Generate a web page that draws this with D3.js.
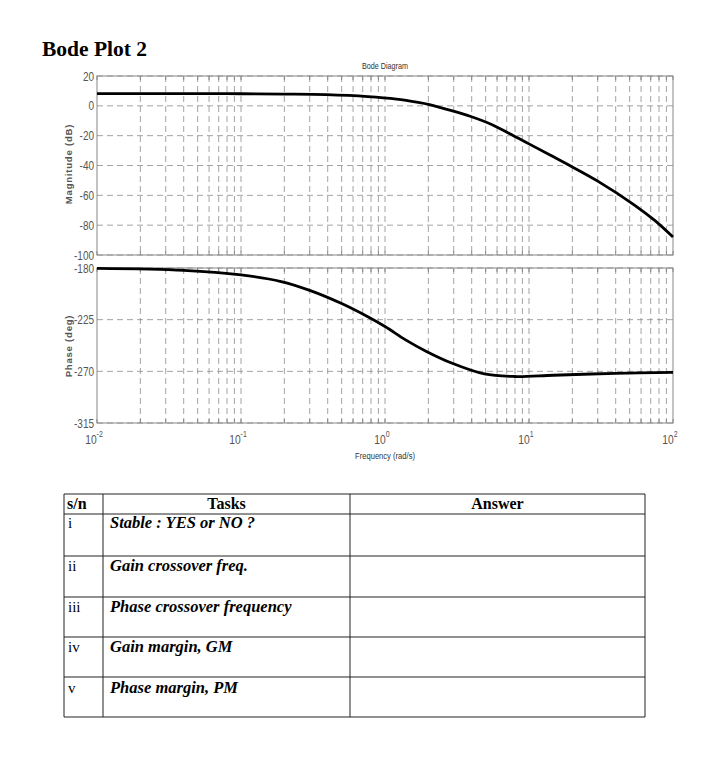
<!DOCTYPE html>
<html>
<head>
<meta charset="utf-8">
<script src="https://cdn.jsdelivr.net/npm/d3@7"></script>
<style>
  body { margin: 0; background: #fff; }
  .tick-lbl { font-family: "Liberation Sans", Arial, sans-serif; font-size: 12.5px; fill: #555; }
  .serif { font-family: "Liberation Serif", "Times New Roman", serif; }
</style>
</head>
<body>
<div id="chart"></div>
<script>
// magnitude curve (rad/s, dB)
const magFreq = [0.01, 0.05, 0.1, 0.2, 0.39, 0.76, 1.2, 1.7, 2, 2.9, 3.9, 5.5, 7.3, 10, 14, 20, 30, 54, 75, 100];
const magDb   = [8.2, 8.2, 8.1, 7.9, 7.5, 6.2, 4.5, 2.3, 1.0, -3.2, -7, -12.5, -18.5, -25.5, -33, -41, -50.5, -66.5, -77, -88];

// phase curve (rad/s, deg)
const phFreq = [0.01, 0.04, 0.1, 0.19, 0.3, 0.5, 0.76, 1, 1.39, 1.94, 2.9, 4.9, 7.9, 14.8, 40, 100];
const phDeg  = [-180.3, -182, -186, -191.8, -199.5, -211, -222.5, -231, -242.6, -252.7, -262.8, -272.3, -274.5, -273.4, -271.7, -270.9];

const magTicks = [20, 0, -20, -40, -60, -80, -100];
const phTicks = [-180, -225, -270, -315];
const decades = [-2, -1, 0, 1, 2];

const tableHead = ["s/n", "Tasks", "Answer"];
const rowNums = ["i", "ii", "iii", "iv", "v"];
const rowTasks = ["Stable : YES or NO ?", "Gain crossover freq.", "Phase crossover frequency", "Gain margin, GM", "Phase margin, PM"];

const width = 707, height = 772;
const svg = d3.select("#chart").append("svg")
    .attr("width", width).attr("height", height);

svg.append("text").attr("class", "serif")
    .attr("x", 42).attr("y", 56)
    .attr("font-size", 21.5).attr("font-weight", "bold")
    .text("Bode Plot 2");

const x = d3.scaleLog().domain([0.01, 100]).range([97, 673]);
const yMag = d3.scaleLinear().domain([-100, 20]).range([255, 76]);
const yPh = d3.scaleLinear().domain([-315, -180]).range([423, 268]);

// every 1..9 x 10^k for grid lines
const gridX = [];
decades.slice(0, -1).forEach(k => {
    for (let m = 1; m < 10; m++) gridX.push(m * Math.pow(10, k));
});
gridX.push(100);

function panel(y, ticks) {
    const g = svg.append("g");
    const [y0, y1] = y.range();
    g.selectAll(".vg").data(gridX.slice(1, -1)).join("line")
        .attr("x1", d => x(d)).attr("x2", d => x(d))
        .attr("y1", y1).attr("y2", y0)
        .attr("stroke", "#8c8c8c").attr("stroke-width", 0.8)
        .attr("stroke-dasharray", "6,4");
    g.selectAll(".hg").data(ticks).join("line")
        .attr("x1", x.range()[0]).attr("x2", x.range()[1])
        .attr("y1", d => y(d)).attr("y2", d => y(d))
        .attr("stroke", "#8c8c8c").attr("stroke-width", 0.8)
        .attr("stroke-dasharray", "6,4");
    g.selectAll(".tb").data(gridX).join("line")
        .attr("x1", d => x(d)).attr("x2", d => x(d))
        .attr("y1", y0).attr("y2", y0 - 4)
        .attr("stroke", "#888");
    g.selectAll(".tt").data(gridX).join("line")
        .attr("x1", d => x(d)).attr("x2", d => x(d))
        .attr("y1", y1).attr("y2", y1 + 4)
        .attr("stroke", "#888");
    g.append("rect")
        .attr("x", x.range()[0]).attr("y", y1)
        .attr("width", x.range()[1] - x.range()[0]).attr("height", y0 - y1)
        .attr("fill", "none").attr("stroke", "#888").attr("stroke-width", 1);
    // narrow labels: squeeze horizontally
    g.selectAll(".yl").data(ticks).join("text")
        .attr("class", "tick-lbl")
        .attr("transform", d => `translate(${x.range()[0] - 3},${y(d) + 4.5}) scale(0.8,1)`)
        .attr("text-anchor", "end")
        .text(d => d);
    return g;
}

panel(yMag, magTicks);
panel(yPh, phTicks);

const magLine = d3.line()
    .x((d, i) => x(magFreq[i])).y(d => yMag(d))
    .curve(d3.curveCatmullRom.alpha(0.5));
svg.append("path").datum(magDb)
    .attr("d", magLine)
    .attr("fill", "none").attr("stroke", "#000").attr("stroke-width", 2.8);

const phLine = d3.line()
    .x((d, i) => x(phFreq[i])).y(d => yPh(d))
    .curve(d3.curveCatmullRom.alpha(0.5));
svg.append("path").datum(phDeg)
    .attr("d", phLine)
    .attr("fill", "none").attr("stroke", "#000").attr("stroke-width", 2.8);

// x tick labels 10^k
const xl = svg.selectAll(".xl").data(decades).join("text")
    .attr("class", "tick-lbl")
    .attr("font-size", 13.5)
    .attr("transform", d => `translate(${x(Math.pow(10, d)) - 3},444) scale(0.82,1)`)
    .attr("text-anchor", "middle");
xl.append("tspan").text("10");
xl.append("tspan").attr("dy", -7).attr("font-size", 8.5).text(d => d);

const smallFont = '"Liberation Sans", Arial, sans-serif';
svg.append("text").attr("transform", "translate(385,69) scale(0.8,1)")
    .attr("text-anchor", "middle").attr("font-family", smallFont)
    .attr("font-size", 9).attr("fill", "#333").text("Bode Diagram");
svg.append("text").attr("transform", "translate(385,459) scale(0.8,1)")
    .attr("text-anchor", "middle").attr("font-family", smallFont)
    .attr("font-size", 9.5).attr("fill", "#333").text("Frequency  (rad/s)");
svg.append("text")
    .attr("transform", "translate(72,164) rotate(-90)")
    .attr("text-anchor", "middle").attr("font-family", smallFont)
    .attr("font-size", 9.5).attr("font-weight", "bold").attr("letter-spacing", 0.8)
    .attr("fill", "#555").text("Magnitude (dB)");
svg.append("text")
    .attr("transform", "translate(72,346) rotate(-90)")
    .attr("text-anchor", "middle").attr("font-family", smallFont)
    .attr("font-size", 9.5).attr("font-weight", "bold").attr("letter-spacing", 0.8)
    .attr("fill", "#555").text("Phase (deg)");

// table
const colX = [64, 103, 350, 645];
const rowY = [494, 514, 556, 597, 637, 677, 717];
const rowOff = [13.5, 15, 15, 15, 16];
const tg = svg.append("g").attr("class", "serif");
colX.forEach(cx => tg.append("line")
    .attr("x1", cx).attr("x2", cx).attr("y1", rowY[0]).attr("y2", rowY[rowY.length - 1])
    .attr("stroke", "#222").attr("stroke-width", 1));
rowY.forEach(ry => tg.append("line")
    .attr("x1", colX[0]).attr("x2", colX[3]).attr("y1", ry).attr("y2", ry)
    .attr("stroke", "#222").attr("stroke-width", 1));

tg.append("text").attr("x", 67).attr("y", 509).attr("font-size", 16)
    .attr("font-weight", "bold").text(tableHead[0]);
tg.append("text").attr("x", (colX[1] + colX[2]) / 2).attr("y", 509).attr("font-size", 16)
    .attr("font-weight", "bold").attr("text-anchor", "middle").text(tableHead[1]);
tg.append("text").attr("x", (colX[2] + colX[3]) / 2).attr("y", 509).attr("font-size", 16)
    .attr("font-weight", "bold").attr("text-anchor", "middle").text(tableHead[2]);

rowNums.forEach((r, i) => {
    tg.append("text").attr("x", 68).attr("y", rowY[i + 1] + rowOff[i])
        .attr("font-size", 15).text(r);
    tg.append("text").attr("x", 110).attr("y", rowY[i + 1] + rowOff[i])
        .attr("font-size", 16.5).attr("font-weight", "bold").attr("font-style", "italic")
        .text(rowTasks[i]);
});
</script>
</body>
</html>
